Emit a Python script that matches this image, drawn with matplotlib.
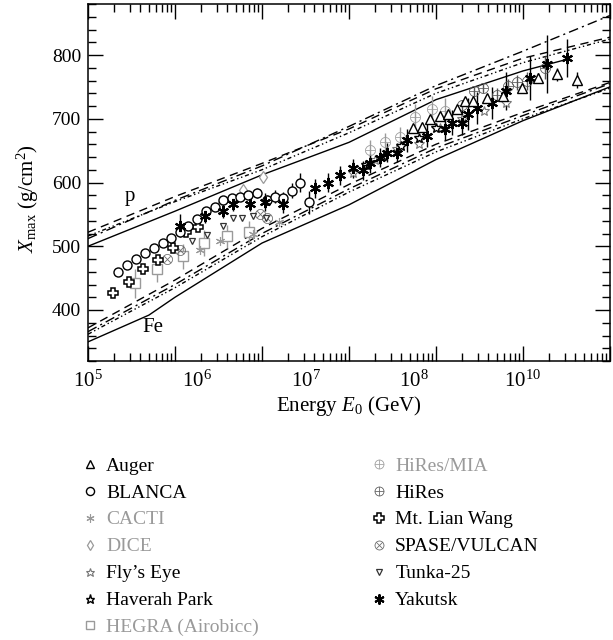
import numpy as np
import matplotlib
matplotlib.use("Agg")
import matplotlib.pyplot as plt
from matplotlib.lines import Line2D
from matplotlib.ticker import LogLocator, NullFormatter, MultipleLocator

plt.rcParams['font.family'] = ['Liberation Serif', 'DejaVu Serif']
plt.rcParams['mathtext.fontset'] = 'custom'
plt.rcParams['mathtext.rm'] = 'Liberation Serif'
plt.rcParams['mathtext.it'] = 'Liberation Serif:italic'
plt.rcParams['mathtext.bf'] = 'Liberation Serif:bold'

GRAY = '#9a9a9a'

# ---------------- model curves (log10 E/GeV, Xmax g/cm2) ----------------
model_logE = [5, 6, 7, 8, 9, 10, 11]
p_dashed = [522, 578, 630, 684, 747, 795, 828]
p_dashdot = [512, 572, 626, 688, 752, 806, 862]
p_dotted = [516, 570, 620, 678, 740, 788, 825]
p_solid_logE = [5, 6, 7, 8, 9, 10, 10.5]
p_solid = [500, 555, 612, 663, 730, 775, 793]

fe_solid_logE = [5, 5.7, 6, 7, 8, 9, 10, 11]
fe_solid = [350, 392, 420, 505, 565, 636, 697, 750]
fe_dashed = [372, 447, 528, 597, 660, 710, 757]
fe_dashdot = [366, 440, 520, 590, 654, 705, 755]
fe_dotted = [362, 435, 515, 585, 648, 700, 748]

# ---------------- data sets ----------------
auger_logE = [8.74, 8.84, 8.93, 9.05, 9.14, 9.24, 9.33, 9.43, 9.59, 9.77, 9.99, 10.17, 10.39, 10.62]
auger_X = [686, 687, 700, 705, 708, 716, 728, 728, 733, 736, 748, 764, 770, 761]
auger_err = [4, 4, 4, 4, 4, 5, 5, 5, 5, 6, 7, 8, 10, 12]

blanca_logE = [5.34, 5.45, 5.55, 5.66, 5.76, 5.86, 5.95, 6.06, 6.15, 6.25, 6.36, 6.46,
               6.55, 6.66, 6.75, 6.84, 6.94, 7.06, 7.15, 7.24, 7.34, 7.44, 7.54]
blanca_X = [459, 470, 480, 489, 497, 505, 513, 522, 532, 543, 555, 562,
            572, 576, 578, 580, 584, 572, 578, 575, 587, 600, 569]
blanca_err = [5, 5, 5, 5, 5, 5, 5, 5, 5, 5, 5, 5, 5, 5, 5, 5, 8, 8, 10, 10, 12, 15, 18]

cacti_logE = [6.29, 6.52, 6.9, 7.2]
cacti_X = [494, 509, 520, 538]

dice_logE = [6.5, 6.78, 7.01]
dice_X = [562, 589, 609]

flys_logE = [8.05, 8.3, 8.55, 8.8, 9.05, 9.3, 9.55, 9.8]
flys_X = [615, 635, 652, 661, 686, 700, 712, 725]

haverah_logE = [8.2, 8.4, 8.6, 8.8, 9.0]
haverah_X = [628, 642, 658, 670, 685]

hegra_logE = [5.54, 5.79, 6.09, 6.33, 6.60, 6.85]
hegra_X = [442, 464, 484, 505, 516, 522]
hegra_err = [23, 20, 20, 20, 18, 18]

hiresmia_logE = [8.24, 8.41, 8.59, 8.76, 8.95, 9.1]
hiresmia_X = [651, 663, 672, 703, 716, 712]
hiresmia_err = [15, 15, 15, 20, 20, 20]

hires_logE = [9.3, 9.44, 9.54, 9.7, 9.83, 9.93, 10.05, 10.25]
hires_X = [722, 744, 748, 738, 752, 757, 759, 780]
hires_err = [8, 8, 8, 10, 10, 12, 14, 18]

lian_logE = [5.29, 5.47, 5.63, 5.80, 5.98, 6.13, 6.26]
lian_X = [427, 444, 464, 478, 498, 522, 530]

spase_logE = [5.91, 6.06, 6.98, 7.06]
spase_X = [480, 494, 551, 545]

tunka_logE = [6.2, 6.37, 6.55, 6.67, 6.77, 6.9, 7.05]
tunka_X = [508, 517, 531, 545, 545, 548, 545]

yak_logE = [6.06, 6.35, 6.55, 6.67, 6.86, 7.03, 7.24, 7.61, 7.76, 7.9, 8.05, 8.16, 8.24,
            8.36, 8.44, 8.55, 8.67, 8.9, 9.1, 9.18, 9.3, 9.37, 9.47, 9.64, 9.81, 10.08,
            10.28, 10.5]
yak_X = [532, 548, 556, 567, 567, 569, 567, 591, 600, 611, 622, 619, 630,
         639, 647, 647, 666, 673, 684, 694, 694, 708, 717, 725, 744, 764, 786, 795]
yak_err = [18, 12, 12, 12, 12, 14, 15, 15, 15, 15, 15, 15, 15,
           15, 15, 15, 18, 18, 18, 20, 20, 25, 25, 25, 30, 35, 45, 30]

xtick_label_pos = [5, 6.25, 7.5, 8.75, 10]
xtick_labels = [r'$10^5$', r'$10^6$', r'$10^7$', r'$10^8$', r'$10^{10}$']
yticks = [400, 500, 600, 700, 800]

FS = 14

# ---------------- figure ----------------
fig = plt.figure(figsize=(6.13, 6.40), dpi=100)
ax = fig.add_axes([88 / 613, 1 - 361 / 640, 522 / 613, 357 / 640])

E = lambda l: 10 ** np.asarray(l, dtype=float)
lw = 1.0
# p band
ax.plot(E(p_solid_logE), p_solid, color='k', lw=lw, ls='-')
ax.plot(E(model_logE), p_dashed, color='k', lw=lw, ls=(0, (6, 4)))
ax.plot(E(model_logE), p_dashdot, color='k', lw=lw, ls=(0, (7, 3, 1.5, 3)))
ax.plot(E(model_logE), p_dotted, color='k', lw=lw, ls=(0, (3, 2, 1, 2, 1, 2)))
# Fe band
ax.plot(E(fe_solid_logE), fe_solid, color='k', lw=lw, ls='-')
ax.plot(E(model_logE), fe_dashed, color='k', lw=lw, ls=(0, (6, 4)))
ax.plot(E(model_logE), fe_dashdot, color='k', lw=lw, ls=(0, (7, 3, 1.5, 3)))
ax.plot(E(model_logE), fe_dotted, color='k', lw=lw, ls=(0, (3, 2, 1, 2, 1, 2)))

ax.text(10 ** 5.48, 578, 'p', fontsize=15, ha='center', va='center')
ax.text(10 ** 5.74, 372, 'Fe', fontsize=15, ha='center', va='center')

styles = {
    'Auger': dict(marker='^', ms=7, mfc='white', mec='k', mew=1.0, color='k'),
    'BLANCA': dict(marker='o', ms=6.5, mfc='white', mec='k', mew=1.0, color='k'),
    'CACTI': dict(marker=(6, 2, 0), ms=6.5, mfc=GRAY, mec=GRAY, mew=0.8, color=GRAY),
    'DICE': dict(marker='d', ms=6, mfc='white', mec=GRAY, mew=0.9, color=GRAY),
    "Fly\u2019s Eye": dict(marker='*', ms=7, mfc='white', mec='#777777', mew=0.8, color='#777777'),
    'Haverah Park': dict(marker='*', ms=7.5, mfc='white', mec='k', mew=1.0, color='k'),
    'HEGRA (Airobicc)': dict(marker='s', ms=6.5, mfc='white', mec=GRAY, mew=1.0, color=GRAY),
    'HiRes/MIA': dict(marker=r'$\oplus$', ms=7.5, mfc=GRAY, mec=GRAY, mew=0.2, color=GRAY),
    'HiRes': dict(marker=r'$\oplus$', ms=7.5, mfc='#555555', mec='#555555', mew=0.2, color='#555555'),
    'Mt. Lian Wang': dict(marker='P', ms=7.5, mfc='white', mec='k', mew=1.1, color='k'),
    'SPASE/VULCAN': dict(marker=r'$\otimes$', ms=7.5, mfc='#666666', mec='#666666', mew=0.2, color='#666666'),
    'Tunka-25': dict(marker='v', ms=5, mfc='white', mec='#333333', mew=0.9, color='#333333'),
    'Yakutsk': dict(marker=(6, 2, 0), ms=8, mfc='k', mec='k', mew=1.5, color='k'),
}

def draw(name, lx, y, err=None, ecolor=None):
    st = dict(styles[name])
    col = st.pop('color')
    if err is not None:
        ax.errorbar(E(lx), y, yerr=err, fmt='none', ecolor=ecolor or col, elinewidth=1.0, capsize=0, zorder=3)
    ax.plot(E(lx), y, ls='none', zorder=4, **st)

draw('HEGRA (Airobicc)', hegra_logE, hegra_X, hegra_err, GRAY)
draw('HiRes/MIA', hiresmia_logE, hiresmia_X, hiresmia_err, GRAY)
draw('CACTI', cacti_logE, cacti_X)
draw('DICE', dice_logE, dice_X)
draw('SPASE/VULCAN', spase_logE, spase_X)
draw('Tunka-25', tunka_logE, tunka_X)
draw("Fly\u2019s Eye", flys_logE, flys_X)
draw('Haverah Park', haverah_logE, haverah_X)
draw('Mt. Lian Wang', lian_logE, lian_X)
draw('BLANCA', blanca_logE, blanca_X, blanca_err, 'k')
draw('HiRes', hires_logE, hires_X, hires_err, '#555555')
draw('Yakutsk', yak_logE, yak_X, yak_err, 'k')
draw('Auger', auger_logE, auger_X, auger_err, 'k')

ax.set_xscale('log')
ax.set_xlim(1e5, 1e11)
ax.set_ylim(320, 880)
ax.xaxis.set_major_locator(LogLocator(base=10, numticks=20))
ax.xaxis.set_minor_locator(LogLocator(base=10, subs=np.arange(2, 10), numticks=100))
ax.xaxis.set_major_formatter(NullFormatter())
ax.xaxis.set_minor_formatter(NullFormatter())
ax.set_yticks(yticks)
ax.yaxis.set_minor_locator(MultipleLocator(20))
ax.tick_params(which='both', direction='in', top=True, right=True, width=1.0)
ax.tick_params(which='major', length=11, labelsize=FS, pad=5)
ax.tick_params(which='minor', length=5.5)
for s in ax.spines.values():
    s.set_linewidth(1.1)

for pos, lab in zip(xtick_label_pos, xtick_labels):
    ax.annotate(lab, xy=(10 ** pos, 0), xycoords=('data', 'axes fraction'),
                xytext=(0, -7), textcoords='offset points', ha='center', va='top', fontsize=FS + 1)

ax.set_xlabel(r'Energy $E_0$ (GeV)', fontsize=FS + 1, labelpad=19)
ax.set_ylabel(r'$X_{\mathrm{max}}$ (g/cm$^2$)', fontsize=FS + 1)
ax.yaxis.set_label_coords(-0.09, 0.454)

# ---------------- legend ----------------
left_names = ['Auger', 'BLANCA', 'CACTI', 'DICE', "Fly\u2019s Eye", 'Haverah Park', 'HEGRA (Airobicc)']
right_names = ['HiRes/MIA', 'HiRes', 'Mt. Lian Wang', 'SPASE/VULCAN', 'Tunka-25', 'Yakutsk']
gray_labels = {'CACTI', 'DICE', 'HEGRA (Airobicc)', 'HiRes/MIA'}

def handle(name):
    st = dict(styles[name])
    st.pop('color')
    st['ms'] = st['ms'] * 0.9
    return Line2D([], [], ls='none', **st)

for names, x0 in ((left_names, 80 / 613), (right_names, 369 / 613)):
    leg = fig.legend([handle(n) for n in names], names, loc='upper left',
                     bbox_to_anchor=(x0, 1 - 457 / 640), frameon=False, fontsize=FS,
                     handlelength=1.0, handletextpad=0.35, labelspacing=0.48,
                     borderpad=0, borderaxespad=0)
    for t in leg.get_texts():
        if t.get_text() in gray_labels:
            t.set_color(GRAY)

fig.savefig('out.png', dpi=100)
